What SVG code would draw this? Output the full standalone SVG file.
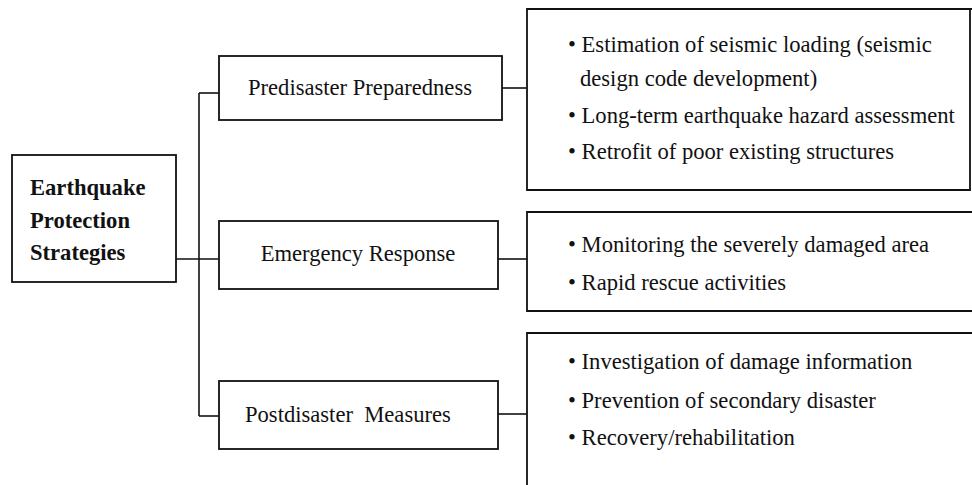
<svg xmlns="http://www.w3.org/2000/svg" width="972" height="485" viewBox="0 0 972 485">
<style>
.box{fill:none;stroke:#111;stroke-width:1.8}
.ln{fill:none;stroke:#111;stroke-width:1.6}
text{font-family:"Liberation Serif","Times New Roman",serif;font-size:22.6px;fill:#111}
.b{font-weight:bold}
</style>
<rect width="972" height="485" fill="#fff"/>
<g id="connectors">
<path class="ln" d="M176,259 H219"/>
<path class="ln" d="M199,93 V416"/>
<path class="ln" d="M199,93 H219"/>
<path class="ln" d="M199,416 H219"/>
<path class="ln" d="M502,88 H527"/>
<path class="ln" d="M498,259 H527"/>
<path class="ln" d="M498,414 H527"/>
</g>
<g id="root">
<rect class="box" x="12" y="155" width="164" height="127"/>
<text class="b" x="30" y="195">Earthquake</text>
<text class="b" x="30" y="228">Protection</text>
<text class="b" x="30" y="260">Strategies</text>
</g>
<g id="predisaster">
<rect class="box" x="219" y="56" width="283" height="64"/>
<text x="360" y="95" text-anchor="middle">Predisaster Preparedness</text>
</g>
<g id="emergency">
<rect class="box" x="219" y="221" width="279" height="68"/>
<text x="358" y="261" text-anchor="middle">Emergency Response</text>
</g>
<g id="postdisaster">
<rect class="box" x="219" y="381" width="279" height="68"/>
<text x="245" y="422" xml:space="preserve">Postdisaster  Measures</text>
</g>
<g id="pre-items">
<path class="box" d="M974,9 H527 V190 H970 V9"/>
<text x="568" y="52">• Estimation of seismic loading (seismic</text>
<text x="580" y="86">design code development)</text>
<text x="568" y="123">• Long-term earthquake hazard assessment</text>
<text x="568" y="159">• Retrofit of poor existing structures</text>
</g>
<g id="emergency-items">
<path class="box" d="M974,212 H527 V311 H974"/>
<text x="568" y="252">• Monitoring the severely damaged area</text>
<text x="568" y="290">• Rapid rescue activities</text>
</g>
<g id="post-items">
<path class="box" d="M974,333 H527 V487"/>
<text x="568" y="369">• Investigation of damage information</text>
<text x="568" y="408">• Prevention of secondary disaster</text>
<text x="568" y="445">• Recovery/rehabilitation</text>
</g>
</svg>
